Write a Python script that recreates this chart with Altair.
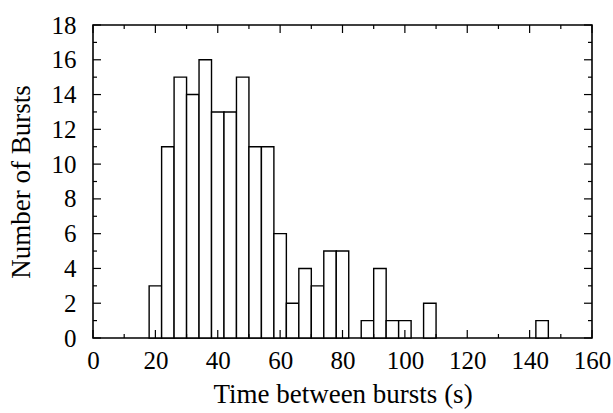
import altair as alt
import pandas as pd

# histogram bins (width 4 s), left edges and counts
bin_start = [18, 22, 26, 30, 34, 38, 42, 46, 50, 54, 58, 62, 66, 70, 74, 78, 86, 90, 94, 98, 106, 142]
counts    = [3, 11, 15, 14, 16, 13, 13, 15, 11, 11, 6, 2, 4, 3, 5, 5, 1, 4, 1, 1, 2, 1]
bin_width = 4

x_ticks = list(range(0, 161, 10))
y_ticks = list(range(0, 19, 1))
x_labels = list(range(0, 161, 20))
y_labels = list(range(0, 19, 2))

df = pd.DataFrame({"start": bin_start, "count": counts})
df["end"] = df["start"] + bin_width
df["zero"] = 0

W, H = 499, 313
FONT = "Liberation Serif"

xs = alt.Scale(domain=[0, 160], nice=False)
ys = alt.Scale(domain=[0, 18], nice=False)

x_axis = alt.Axis(values=x_labels, tickSize=0, domain=False, grid=False,
                  labelFont=FONT, labelFontSize=25, labelColor="black", labelPadding=10,
                  labelFlush=False, labelOverlap=False, labelBound=False,
                  title="Time between bursts (s)", titleFont=FONT, titleFontSize=27,
                  titleFontWeight="normal", titleColor="black", titlePadding=8)
y_axis = alt.Axis(values=y_labels, tickSize=0, domain=False, grid=False,
                  labelFont=FONT, labelFontSize=25, labelColor="black", labelPadding=17,
                  labelFlush=False, labelOverlap=False, labelBound=False,
                  title="Number of Bursts", titleFont=FONT, titleFontSize=27,
                  titleFontWeight="normal", titleColor="black", titlePadding=16)

bars = alt.Chart(df).mark_rect(fill="white", stroke="black", strokeWidth=1.4).encode(
    x=alt.X("start:Q", scale=xs, axis=x_axis),
    x2="end:Q",
    y=alt.Y("count:Q", scale=ys, axis=y_axis),
    y2="zero:Q",
)

xt = pd.DataFrame({"v": x_ticks})
xt["len"] = [8 if v % 20 == 0 else 4 for v in x_ticks]
yt = pd.DataFrame({"v": y_ticks})
yt["len"] = [8 if v % 2 == 0 else 4 for v in y_ticks]

tick_style = dict(color="black", strokeWidth=1.2)

xt_bottom = alt.Chart(xt).transform_calculate(y0=f"{H}", y1=f"{H} - datum.len").mark_rule(**tick_style).encode(
    x=alt.X("v:Q", scale=xs, axis=x_axis), y=alt.Y("y0:Q", scale=None), y2="y1:Q")
xt_top = alt.Chart(xt).transform_calculate(y0="0", y1="datum.len").mark_rule(**tick_style).encode(
    x=alt.X("v:Q", scale=xs, axis=x_axis), y=alt.Y("y0:Q", scale=None), y2="y1:Q")
yt_left = alt.Chart(yt).transform_calculate(x0="0", x1="datum.len").mark_rule(**tick_style).encode(
    y=alt.Y("v:Q", scale=ys, axis=y_axis), x=alt.X("x0:Q", scale=None), x2="x1:Q")
yt_right = alt.Chart(yt).transform_calculate(x0=f"{W}", x1=f"{W} - datum.len").mark_rule(**tick_style).encode(
    y=alt.Y("v:Q", scale=ys, axis=y_axis), x=alt.X("x0:Q", scale=None), x2="x1:Q")

chart = alt.layer(bars, xt_bottom, xt_top, yt_left, yt_right).properties(
    width=W, height=H,
    autosize=alt.AutoSizeParams(type="none"),
    padding={"left": 93, "top": 25, "right": 21, "bottom": 75},
    background="white",
).configure_view(stroke="black", strokeWidth=1.6).configure_axis(labelOverlap=False)

chart.save("out.html", embed_options={"renderer": "svg", "actions": False})
